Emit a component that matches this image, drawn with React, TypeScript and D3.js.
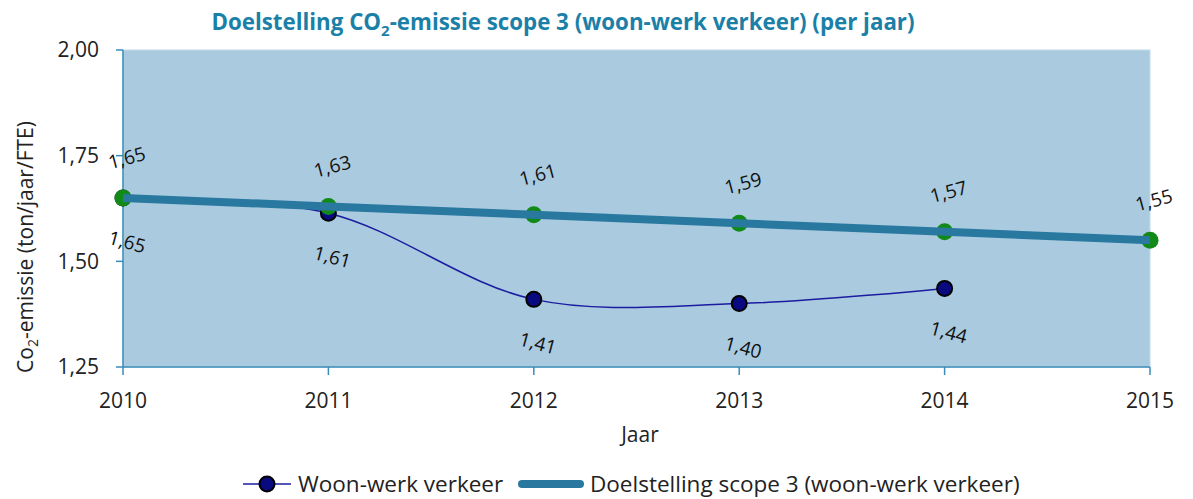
import React from 'react'
import * as d3 from 'd3'

const years = [2010, 2011, 2012, 2013, 2014, 2015]
const woonWerk = [1.65, 1.614, 1.41, 1.40, 1.436]
const doelstelling = [1.65, 1.63, 1.61, 1.59, 1.57, 1.55]
const yTicks = [1.25, 1.5, 1.75, 2.0]

const W = 1193
const H = 499
const margin = { top: 50, right: 43, bottom: 132, left: 123 }
const font = "'Open Sans', 'Noto Sans', sans-serif"

const fmt = (v: number) => v.toFixed(2).replace('.', ',')

export default function App() {
  const x = d3
    .scaleLinear()
    .domain([2010, 2015])
    .range([margin.left, W - margin.right])
  const y = d3
    .scaleLinear()
    .domain([1.25, 2.0])
    .range([H - margin.bottom, margin.top])

  const blue = woonWerk.map((v, i) => ({ yr: years[i], v }))
  const green = doelstelling.map((v, i) => ({ yr: years[i], v }))

  const smooth = d3
    .line<{ yr: number; v: number }>()
    .x((d) => x(d.yr))
    .y((d) => y(d.v))
    .curve(d3.curveCatmullRom.alpha(0.5))
  const straight = d3
    .line<{ yr: number; v: number }>()
    .x((d) => x(d.yr))
    .y((d) => y(d.v))

  const x0 = margin.left
  const x1 = W - margin.right
  const y0 = H - margin.bottom
  const y1 = margin.top
  const axisColor = '#3a8bb8'

  return (
    <svg
      width={W}
      height={H}
      style={{ display: 'block', position: 'absolute', left: 0, top: 0 }}
    >
      <rect x={0} y={0} width={W} height={H} fill="#fff" />
      <text
        x={563}
        y={30}
        textAnchor="middle"
        fontFamily={font}
        fontWeight="bold"
        fontSize={22.3}
        fill="#1b80a8"
      >
        Doelstelling CO<tspan dy={6} fontSize={15}>2</tspan>
        <tspan dy={-6}>-emissie scope 3 (woon-werk verkeer) (per jaar)</tspan>
      </text>

      <rect x={x0} y={y1} width={x1 - x0} height={y0 - y1} fill="#a9cadf" stroke="#c4dcea" />

      {/* axes */}
      <line x1={x0} x2={x0} y1={y1} y2={y0} stroke={axisColor} strokeWidth={1.5} />
      <line x1={x0} x2={x1} y1={y0} y2={y0} stroke={axisColor} strokeWidth={1.5} />
      {yTicks.map((t) => (
        <g key={`yt-${t}`}>
          <line x1={x0 - 7} x2={x0} y1={y(t)} y2={y(t)} stroke={axisColor} strokeWidth={1.5} />
          <text
            x={x0 - 24}
            y={y(t)}
            dy="0.35em"
            textAnchor="end"
            fontFamily={font}
            fontSize={21}
            fill="#222"
          >
            {fmt(t)}
          </text>
        </g>
      ))}
      {years.map((yr) => (
        <g key={`xt-${yr}`}>
          <line x1={x(yr)} x2={x(yr)} y1={y0} y2={y0 + 8} stroke={axisColor} strokeWidth={1.5} />
          <text
            x={x(yr)}
            y={408}
            textAnchor="middle"
            fontFamily={font}
            fontSize={21}
            fill="#222"
          >
            {yr}
          </text>
        </g>
      ))}
      <text x={640} y={442} textAnchor="middle" fontFamily={font} fontSize={21} fill="#222">
        Jaar
      </text>
      <text
        transform={`translate(33, 247) rotate(-90)`}
        textAnchor="middle"
        fontFamily={font}
        fontSize={21}
        fill="#222"
      >
        Co<tspan dy={5} fontSize={14}>2</tspan>
        <tspan dy={-5}>-emissie (ton/jaar/FTE)</tspan>
      </text>

      {/* Woon-werk verkeer */}
      <path d={smooth(blue) || ''} fill="none" stroke="#1c1ca0" strokeWidth={1.5} />
      {blue.map((d) => (
        <circle key={`b-${d.yr}`} cx={x(d.yr)} cy={y(d.v)} r={7.5} fill="#0a0a80" stroke="#000" strokeWidth={2} />
      ))}

      {/* Doelstelling */}
      {green.map((d) => (
        <circle key={`g-${d.yr}`} cx={x(d.yr)} cy={y(d.v)} r={8.5} fill="#118a18" />
      ))}
      <path d={straight(green) || ''} fill="none" stroke="#2878a0" strokeWidth={8} />

      {/* data labels */}
      {green.map((d) => (
        <text
          key={`gl-${d.yr}`}
          transform={`translate(${x(d.yr) + 4}, ${y(d.v) - 40}) rotate(-15)`}
          textAnchor="middle"
          dy="0.35em"
          fontFamily={font}
          fontSize={19}
          fill="#111"
        >
          {fmt(d.v)}
        </text>
      ))}
      {blue.map((d) => (
        <text
          key={`bl-${d.yr}`}
          transform={`translate(${x(d.yr) + 4}, ${y(d.v) + 44}) rotate(15)`}
          textAnchor="middle"
          dy="0.35em"
          fontFamily={font}
          fontSize={19}
          fill="#111"
        >
          {fmt(d.v)}
        </text>
      ))}

      {/* legend */}
      <g fontFamily={font} fontSize={22.5} fill="#222">
        <line x1={243} x2={291} y1={484} y2={484} stroke="#1c1ca0" strokeWidth={1.5} />
        <circle cx={267} cy={484} r={7.5} fill="#0a0a80" stroke="#000" strokeWidth={2} />
        <text x={298} y={484} dy="0.35em">Woon-werk verkeer</text>
        <line x1={522} x2={580} y1={484} y2={484} stroke="#2878a0" strokeWidth={8} strokeLinecap="round" />
        <text x={590} y={484} dy="0.35em">Doelstelling scope 3 (woon-werk verkeer)</text>
      </g>
    </svg>
  )
}
